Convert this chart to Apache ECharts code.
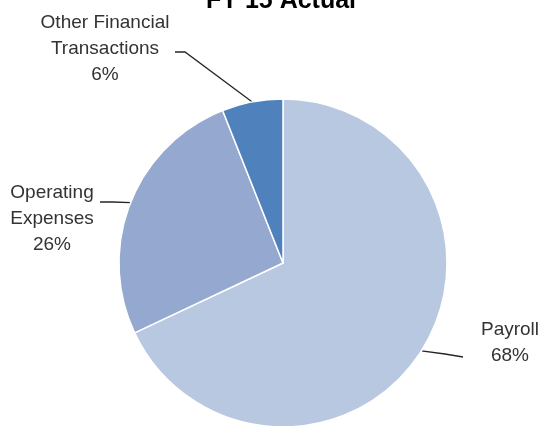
<!DOCTYPE html>
<html>
<head>
<meta charset="utf-8">
<script src="https://cdn.jsdelivr.net/npm/echarts@6/dist/echarts.min.js"></script>
<style>html,body{margin:0;padding:0;background:#fff}#c{width:541px;height:426px}</style>
</head>
<body>
<div id="c"></div>
<script>
const titleText = 'FY 15 Actual';
const categories = ['Payroll', 'Operating Expenses', 'Other Financial Transactions'];
const labelNames = ['Payroll', 'Operating\nExpenses', 'Other Financial\nTransactions'];
const values = [68, 26, 6];
const colors = ['#b9c8e1', '#95a8cf', '#4f81bd'];

// label placement (style only)
const labelPos = [
  { x: 510, y: 317, bend: [445, 354], end: [463, 357] },
  { x: 52, y: 180, bend: [113, 202], end: [100, 202] },
  { x: 105, y: 10, bend: [185, 52], end: [175, 52] }
];

const chart = echarts.init(document.getElementById('c'), null, { renderer: 'canvas' });
chart.setOption({
  animation: false,
  title: {
    text: titleText,
    left: 206,
    top: -11,
    padding: 0,
    textStyle: { fontFamily: "'Liberation Sans', Arial, sans-serif", fontSize: 25, fontWeight: 'bold', color: '#000' }
  },
  series: [{
    type: 'pie',
    center: [283, 263],
    radius: 164,
    startAngle: 90,
    clockwise: true,
    data: categories.map((c, i) => ({ name: c, value: values[i], itemStyle: { color: colors[i] } })),
    itemStyle: { borderColor: '#fff', borderWidth: 1.5 },
    label: {
      show: true,
      formatter: p => labelNames[p.dataIndex] + '\n' + p.value + '%',
      fontFamily: "'Liberation Sans', Arial, sans-serif",
      fontSize: 19,
      lineHeight: 26,
      color: '#333333',
      align: 'center',
      overflow: 'none'
    },
    labelLine: { show: true, lineStyle: { color: '#262626', width: 1.3 } },
    labelLayout: function (params) {
      const lp = labelPos[params.dataIndex];
      const p0 = params.labelLinePoints ? params.labelLinePoints[0] : lp.bend;
      return {
        x: lp.x, y: lp.y, align: 'center', verticalAlign: 'top',
        labelLinePoints: [p0, lp.bend, lp.end]
      };
    }
  }]
});
</script>
</body>
</html>
